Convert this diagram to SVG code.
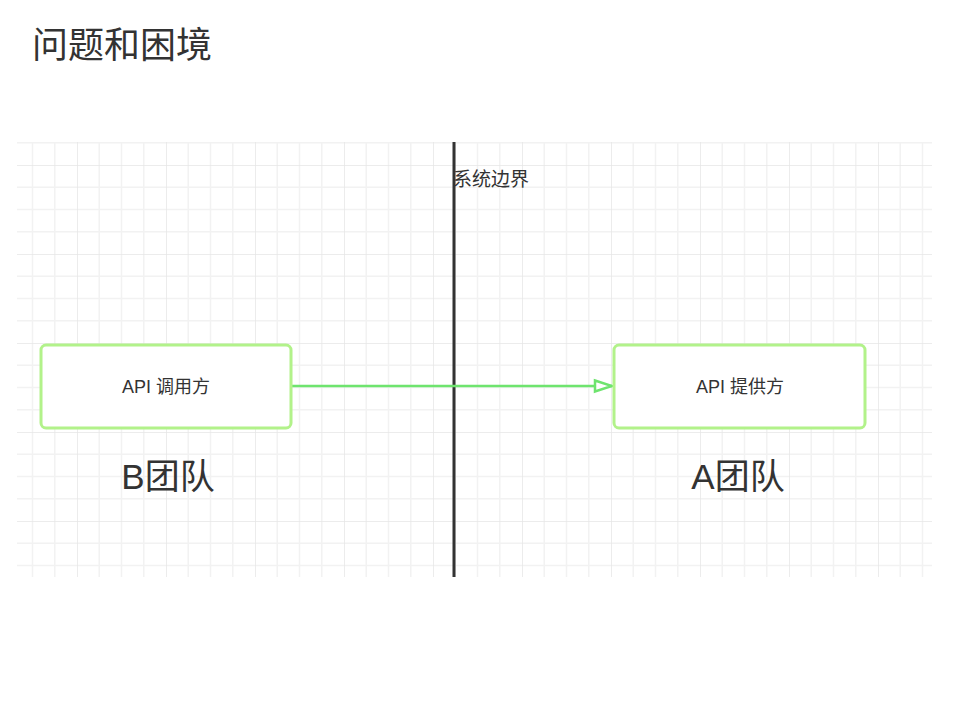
<svg xmlns="http://www.w3.org/2000/svg" width="960" height="720" viewBox="0 0 960 720">
<style>
.t{font-family:"Liberation Sans","Noto Sans CJK SC",sans-serif;fill:#333}
.box{fill:#fff;stroke:#b2f28a;stroke-width:3}
</style>
<defs>
<pattern id="grid" patternUnits="userSpaceOnUse" x="77" y="165" width="89" height="89">
<path d="M22.25 0V89M44.5 0V89M66.75 0V89M0 22.25H89M0 44.5H89M0 66.75H89" stroke="#f2f2f2" stroke-width="1.5" fill="none"/>
<path d="M0 0V89M0 0H89" stroke="#e6e6e6" stroke-width="1.5" fill="none"/>
</pattern>
<marker id="arr" markerWidth="22" markerHeight="16" refX="19" refY="8" orient="auto" markerUnits="userSpaceOnUse">
<path d="M2 2.5L19 8L2 13.5Z" fill="#fff" stroke="#6ee46e" stroke-width="2.5"/>
</marker>
</defs>
<rect width="960" height="720" fill="#fff"/>
<text class="t" x="32" y="58" font-size="36">问题和困境</text>
<rect x="17" y="142" width="915" height="435" fill="url(#grid)"/>
<g id="boundary">
<line x1="454" y1="142" x2="454" y2="577" stroke="#333" stroke-width="3"/>
<text class="t" x="453" y="186" font-size="19">系统边界</text>
</g>
<g id="connectors">
<line x1="292" y1="386" x2="612" y2="386" stroke="#6ee46e" stroke-width="2.5" marker-end="url(#arr)"/>
</g>
<g id="caller">
<rect class="box" x="41" y="345" width="250" height="83" rx="5"/>
<text class="t" x="166" y="393" font-size="18" text-anchor="middle">API 调用方</text>
</g>
<g id="provider">
<rect class="box" x="614" y="345" width="251" height="83" rx="5"/>
<text class="t" x="740" y="393" font-size="18" text-anchor="middle">API 提供方</text>
</g>
<g id="teamB">
<text class="t" x="168" y="489" font-size="35" text-anchor="middle">B团队</text>
</g>
<g id="teamA">
<text class="t" x="738" y="489" font-size="35" text-anchor="middle">A团队</text>
</g>
</svg>
